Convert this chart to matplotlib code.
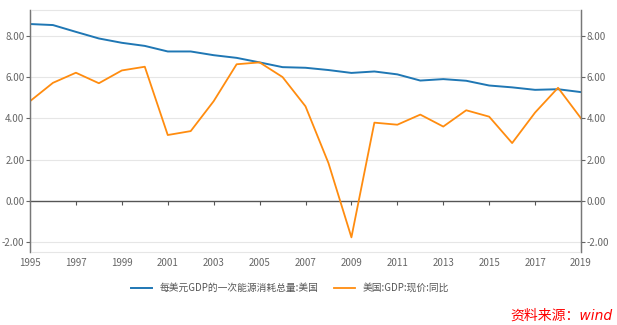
import numpy as np
import matplotlib
matplotlib.use('Agg')
import matplotlib.pyplot as plt

plt.rcParams['font.family'] = ['Noto Sans CJK SC', 'DejaVu Sans']

years = list(range(1995, 2020))
energy_per_gdp = [8.57, 8.52, 8.19, 7.87, 7.66, 7.51, 7.24, 7.24, 7.06, 6.93,
                  6.71, 6.48, 6.45, 6.34, 6.20, 6.27, 6.13, 5.83, 5.90, 5.82,
                  5.59, 5.50, 5.38, 5.41, 5.27]
gdp_yoy = [4.83, 5.72, 6.21, 5.70, 6.32, 6.50, 3.19, 3.38, 4.83, 6.62,
           6.71, 6.00, 4.58, 1.83, -1.77, 3.79, 3.69, 4.18, 3.60, 4.39,
           4.08, 2.80, 4.28, 5.48, 4.00]
label_energy = '每美元GDP的一次能源消耗总量:美国'
label_gdp = '美国:GDP:现价:同比'

ymin, ymax = -2.48, 9.25
grey = '#666666'

fig = plt.figure(figsize=(6.17, 3.25), dpi=100)
ax = fig.add_axes([30/617, 1-252/325, 551/617, 242/325])

for v in [-2, 2, 4, 6, 8]:
    ax.axhline(v, color='#e6e6e6', lw=0.8, zorder=0)

l1, = ax.plot(years, energy_per_gdp, color='#1f77b4', lw=1.4, label=label_energy)
l2, = ax.plot(years, gdp_yoy, color='#ff8c0f', lw=1.3, label=label_gdp)

ax.set_xlim(1995, 2019)
ax.set_ylim(ymin, ymax)
yt = [-2, 0, 2, 4, 6, 8]
ax.set_yticks(yt)
ax.set_yticklabels(['%.2f' % v for v in yt])
ax.tick_params(axis='y', colors=grey, labelsize=7, length=3, width=0.8, pad=1)
ax.set_xticks(list(range(1995, 2020, 2)))
ax.tick_params(axis='x', colors=grey, labelsize=7, length=0, pad=4)

for s in ['left', 'right']:
    ax.spines[s].set_color('#777777')
    ax.spines[s].set_linewidth(1.0)
ax.spines['top'].set_color('#e6e6e6')
ax.spines['bottom'].set_color('#e6e6e6')

# zero line with ticks
zero_loc = (0 - ymin) / (ymax - ymin)
sec = ax.secondary_xaxis(zero_loc)
sec.set_xticks(list(range(1997, 2019, 2)))
sec.tick_params(length=3, width=0.8, color='#555555', labelbottom=False, labeltop=False)
sec.spines['bottom'].set_color('#555555')
sec.spines['bottom'].set_linewidth(1.0)

ax2 = ax.twinx()
ax2.set_ylim(ymin, ymax)
ax2.set_yticks(yt)
ax2.set_yticklabels(['%.2f' % v for v in yt])
ax2.tick_params(axis='y', colors=grey, labelsize=7, length=3, width=0.8, pad=1)
for s in ['left', 'right']:
    ax2.spines[s].set_color('#777777')
ax2.spines['top'].set_visible(False)
ax2.spines['bottom'].set_visible(False)

fig.legend(handles=[l1, l2], loc='center', bbox_to_anchor=(290/617, 1-288/325),
           ncol=2, frameon=False, fontsize=7, handlelength=2.2, columnspacing=1.5,
           labelcolor='#555555')

fig.text(0.992, 1-316/325, '资料来源：wind', color='red', fontsize=10,
         style='italic', family=['DejaVu Sans', 'Noto Sans CJK SC'],
         ha='right', va='center')

fig.savefig('out.png', dpi=100)
